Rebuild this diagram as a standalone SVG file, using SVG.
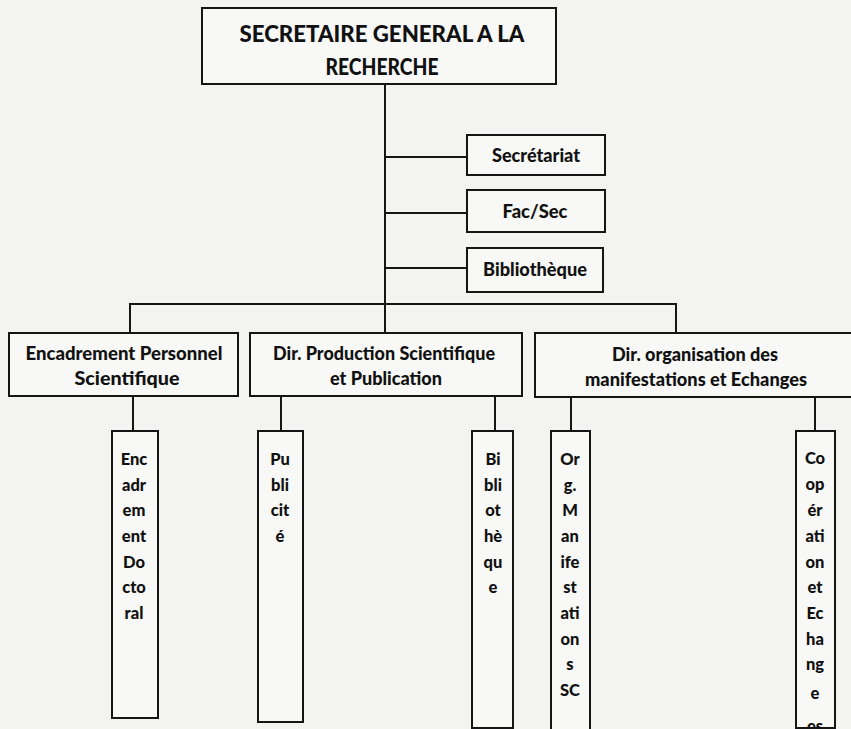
<svg xmlns="http://www.w3.org/2000/svg" width="851" height="729" viewBox="0 0 851 729">
  <defs>
    <style>
      .box { fill: #f8f8f6; stroke: #151515; stroke-width: 2; }
      .wire { fill: none; stroke: #151515; stroke-width: 2; }
      text { font-family: Lato, "Liberation Sans", sans-serif; font-weight: 900; fill: #111; text-anchor: middle; }
      .title { font-size: 23px; }
      .head { font-size: 18.5px; }
      .side { font-size: 18px; }
      .col { font-size: 16.5px; }
    </style>
    <clipPath id="clip-coop">
      <rect x="796" y="431" width="39" height="296"/>
    </clipPath>
  </defs>

  <!-- paper -->
  <rect x="0" y="0" width="851" height="729" fill="#f3f3f1"/>

  <!-- connectors -->
  <g id="connectors">
    <!-- main trunk -->
    <line class="wire" x1="385" y1="84" x2="385" y2="333"/>
    <!-- staff branches -->
    <line class="wire" x1="385" y1="157" x2="467" y2="157"/>
    <line class="wire" x1="385" y1="213" x2="467" y2="213"/>
    <line class="wire" x1="385" y1="268" x2="467" y2="268"/>
    <!-- directorate bar -->
    <polyline class="wire" points="130,333 130,304 676,304 676,333"/>
    <!-- sub-units -->
    <line class="wire" x1="133" y1="396" x2="133" y2="431"/>
    <line class="wire" x1="281" y1="396" x2="281" y2="431"/>
    <line class="wire" x1="495" y1="396" x2="495" y2="431"/>
    <line class="wire" x1="571" y1="397" x2="571" y2="431"/>
    <line class="wire" x1="815" y1="397" x2="815" y2="431"/>
  </g>

  <g id="sg">
    <rect class="box" x="202" y="8" width="354" height="76"/>
    <text class="title" x="382" y="42" textLength="285" lengthAdjust="spacingAndGlyphs">SECRETAIRE GENERAL A LA</text>
    <text class="title" x="382" y="75" textLength="113" lengthAdjust="spacingAndGlyphs">RECHERCHE</text>
  </g>

  <g id="secretariat">
    <rect class="box" x="467" y="135" width="138" height="40"/>
    <text class="side" x="536" y="162" textLength="88" lengthAdjust="spacingAndGlyphs">Secrétariat</text>
  </g>

  <g id="facsec">
    <rect class="box" x="467" y="190" width="138" height="42"/>
    <text class="side" x="535" y="218" textLength="65" lengthAdjust="spacingAndGlyphs">Fac/Sec</text>
  </g>

  <g id="bibliotheque">
    <rect class="box" x="467" y="248" width="136" height="44"/>
    <text class="side" x="535" y="276" textLength="104" lengthAdjust="spacingAndGlyphs">Bibliothèque</text>
  </g>

  <g id="encadrement-personnel">
    <rect class="box" x="9" y="333" width="229" height="63"/>
    <text class="head" x="124" y="360" textLength="197" lengthAdjust="spacingAndGlyphs">Encadrement Personnel</text>
    <text class="head" x="127" y="385" textLength="105" lengthAdjust="spacingAndGlyphs">Scientifique</text>
  </g>

  <g id="dir-production">
    <rect class="box" x="250" y="333" width="272" height="63"/>
    <text class="head" x="384" y="360" textLength="222" lengthAdjust="spacingAndGlyphs">Dir. Production Scientifique</text>
    <text class="head" x="386" y="385" textLength="112" lengthAdjust="spacingAndGlyphs">et Publication</text>
  </g>

  <g id="dir-organisation">
    <rect class="box" x="535" y="333" width="330" height="64"/>
    <text class="head" x="695" y="361" textLength="166" lengthAdjust="spacingAndGlyphs">Dir. organisation des</text>
    <text class="head" x="696" y="386" textLength="222" lengthAdjust="spacingAndGlyphs">manifestations et Echanges</text>
  </g>

  <g id="encadrement-doctoral">
    <rect class="box" x="112" y="431" width="46" height="287"/>
    <text class="col" x="134" y="465">Enc</text>
    <text class="col" x="134" y="491">adr</text>
    <text class="col" x="134" y="516">em</text>
    <text class="col" x="134" y="542">ent</text>
    <text class="col" x="134" y="568">Do</text>
    <text class="col" x="134" y="593">cto</text>
    <text class="col" x="134" y="619">ral</text>
  </g>

  <g id="publicite">
    <rect class="box" x="258" y="431" width="45" height="291"/>
    <text class="col" x="280" y="465">Pu</text>
    <text class="col" x="280" y="491">bli</text>
    <text class="col" x="280" y="516">cit</text>
    <text class="col" x="280" y="542">é</text>
  </g>

  <g id="bibliotheque-unit">
    <rect class="box" x="472" y="431" width="41" height="297"/>
    <text class="col" x="493" y="465">Bi</text>
    <text class="col" x="493" y="491">bli</text>
    <text class="col" x="493" y="516">ot</text>
    <text class="col" x="493" y="542">hè</text>
    <text class="col" x="493" y="568">qu</text>
    <text class="col" x="493" y="593">e</text>
  </g>

  <g id="org-manifestations">
    <rect class="box" x="551" y="431" width="39" height="302"/>
    <text class="col" x="570" y="465">Or</text>
    <text class="col" x="570" y="491">g.</text>
    <text class="col" x="570" y="516">M</text>
    <text class="col" x="570" y="542">an</text>
    <text class="col" x="570" y="568">ife</text>
    <text class="col" x="570" y="593">st</text>
    <text class="col" x="570" y="619">ati</text>
    <text class="col" x="570" y="645">on</text>
    <text class="col" x="570" y="670">s</text>
    <text class="col" x="570" y="696">SC</text>
  </g>

  <g id="cooperation">
    <rect class="box" x="796" y="431" width="39" height="297"/>
    <g clip-path="url(#clip-coop)">
      <text class="col" x="815" y="464">Co</text>
      <text class="col" x="815" y="490">op</text>
      <text class="col" x="815" y="516">ér</text>
      <text class="col" x="815" y="542">ati</text>
      <text class="col" x="815" y="568">on</text>
      <text class="col" x="815" y="593">et</text>
      <text class="col" x="815" y="619">Ec</text>
      <text class="col" x="815" y="645">ha</text>
      <text class="col" x="815" y="670">ng</text>
      <text class="col" x="815" y="699">e</text>
      <text class="col" x="815" y="732">es</text>
    </g>
  </g>
</svg>
